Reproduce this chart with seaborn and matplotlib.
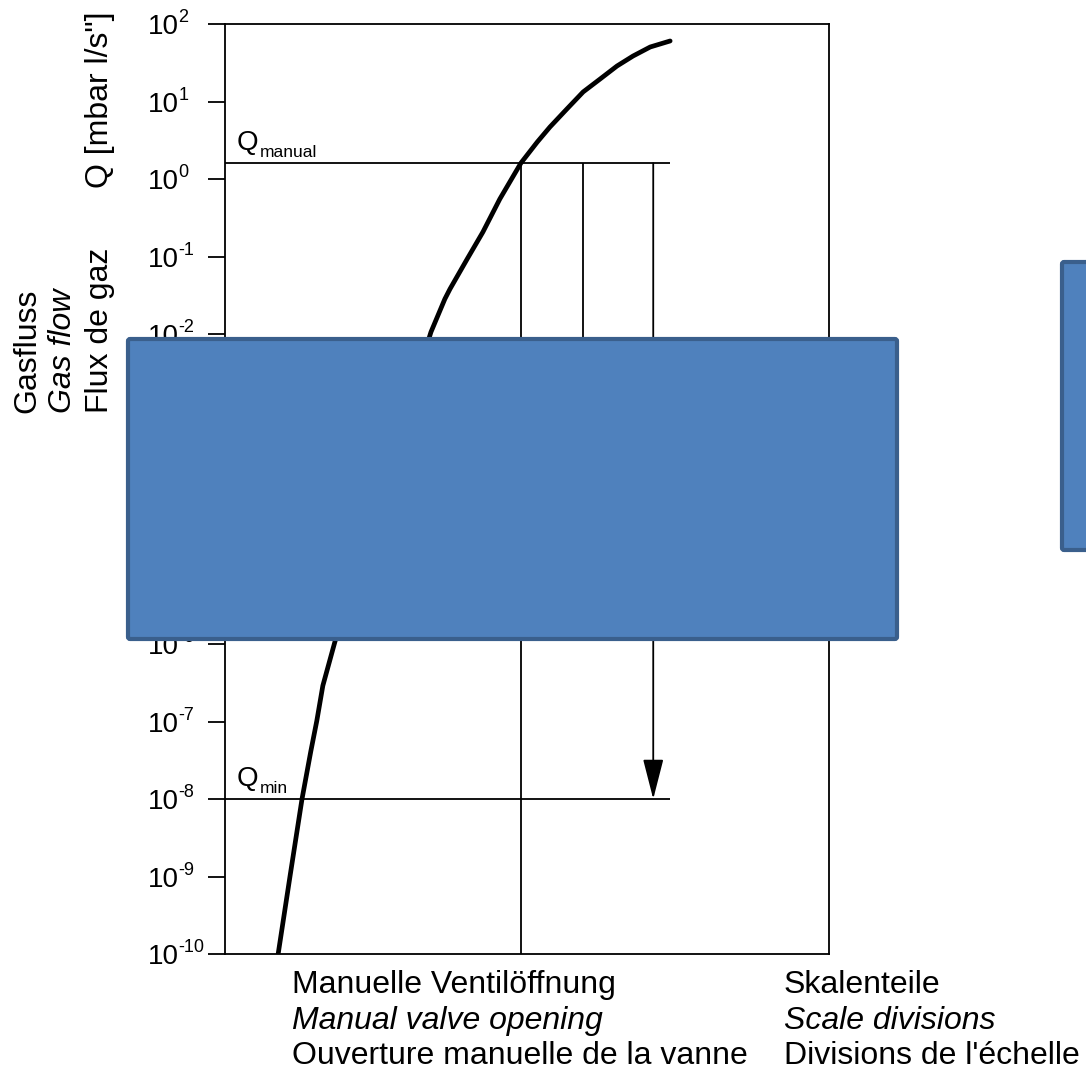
import matplotlib
matplotlib.use("Agg")
import matplotlib.pyplot as plt
from matplotlib.patches import FancyBboxPatch
from matplotlib.ticker import NullLocator, FixedFormatter
import seaborn as sns

# ── values ────────────────────────────────────────────────────────────────────
# valve opening in scale divisions (axis 0..100) and gas flow Q [mbar l/s]
opening = [8.8, 10.8, 12.75, 14.2, 15.2, 16.2, 18.2,
           34.1, 36.4, 37.25, 40.1, 42.7, 45.5, 49.0, 51.7, 53.8, 56.6,
           59.3, 62.1, 64.9, 67.55, 70.4, 73.7]
flow    = [1e-10, 1.05e-9, 1e-8, 4.1e-8, 1.02e-7, 2.9e-7, 1.07e-6,
           1.06e-2, 2.83e-2, 3.81e-2, 9.3e-2, 0.207, 0.552, 1.61, 3.0, 4.69, 8.0,
           13.3, 19.5, 28.7, 38.6, 50.5, 60.4]
q_manual = 1.6
q_min    = 1e-8
divisions  = [49.0, 59.3, 70.9]        # vertical guide lines
div_bottom = [1e-10, 1e-5, q_min]      # where each guide line ends
guide_end  = 73.7                      # right end of Q_manual / Q_min lines
decades    = list(range(-10, 3))
tick_base  = ["10"] * len(decades)
tick_exp   = [str(d) for d in decades]

W, H = 1086, 1071
def fx(px): return px / W
def fy(py): return 1 - py / H

sns.set_style("ticks")
plt.rcParams["font.family"] = ["Liberation Sans", "DejaVu Sans"]
plt.rcParams["text.color"] = "black"
plt.rcParams["ytick.color"] = "black"
plt.rcParams["axes.edgecolor"] = "black"

fig = plt.figure(figsize=(W / 100, H / 100), dpi=100)
ax = fig.add_axes([fx(225), fy(954), fx(829) - fx(225), fy(24) - fy(954)])

sns.lineplot(x=opening, y=flow, ax=ax, color="black", lw=3.4, sort=False,
             solid_capstyle="round", solid_joinstyle="round")
ax.set_yscale("log")
ax.set_xlim(0, 100); ax.set_ylim(1e-10, 1e2)

ax.hlines([q_manual, q_min], 0, guide_end, color="black", lw=1.3)
ax.vlines(divisions[:2], div_bottom[:2], q_manual, color="black", lw=1.3)
ax.annotate("", xy=(divisions[2], div_bottom[2]), xytext=(divisions[2], q_manual),
            arrowprops=dict(arrowstyle="-|>,head_length=1.25,head_width=0.32",
                            mutation_scale=20, color="black", lw=1.3,
                            shrinkA=0, shrinkB=0))

# y ticks: "10" as tick label, exponent as a small raised text
ax.set_xticks([])
ax.set_yticks([10.0 ** d for d in decades])
ax.yaxis.set_minor_locator(NullLocator())
ax.yaxis.set_major_formatter(FixedFormatter(tick_base))
ax.tick_params(axis="y", direction="out", length=12.2, width=1.3, pad=43,
               labelsize=20, labelcolor="black", color="black")
for lab in ax.get_yticklabels():
    lab.set_horizontalalignment("left")
for d, e in zip(decades, tick_exp):
    ax.annotate(e, xy=(0, 10.0 ** d), xycoords=("axes fraction", "data"),
                xytext=(-33.5, 4.5), textcoords="offset points",
                fontsize=13, ha="left", va="center")
for s in ax.spines.values():
    s.set_visible(True); s.set_color("black"); s.set_linewidth(1.3)

# Q labels on the guide lines
fig.text(fx(237), fy(150), "Q", fontsize=20, va="baseline")
fig.text(fx(260), fy(157), "manual", fontsize=12.5, va="baseline")
fig.text(fx(237), fy(786), "Q", fontsize=20, va="baseline")
fig.text(fx(260), fy(793), "min", fontsize=12.5, va="baseline")

# y axis labels (rotated)
fig.text(fx(100), fy(188), 'Q [mbar l/s"]', rotation=90, fontsize=23, ha="center", va="bottom")
fig.text(fx(27), fy(413), "Gasfluss", rotation=90, fontsize=23, ha="center", va="bottom")
fig.text(fx(63), fy(413), "Gas flow", rotation=90, fontsize=23, ha="center", va="bottom", style="italic")
fig.text(fx(100), fy(413), "Flux de gaz", rotation=90, fontsize=23, ha="center", va="bottom")

# x axis labels
fig.text(fx(292), fy(993), "Manuelle Ventilöffnung", fontsize=23, va="baseline")
fig.text(fx(292), fy(1029), "Manual valve opening", fontsize=23, va="baseline", style="italic")
fig.text(fx(292), fy(1064), "Ouverture manuelle de la vanne", fontsize=23, va="baseline")
fig.text(fx(784), fy(993), "Skalenteile", fontsize=23, va="baseline")
fig.text(fx(784), fy(1029), "Scale divisions", fontsize=23, va="baseline", style="italic")
fig.text(fx(784), fy(1064), "Divisions de l'échelle", fontsize=23, va="baseline")

# blue cover boxes
for x0, y0, x1, y1 in [(128, 339, 897, 639), (1062, 262, 1110, 550)]:
    fig.add_artist(FancyBboxPatch((fx(x0), fy(y1)), fx(x1) - fx(x0), fy(y0) - fy(y1),
                                  boxstyle="round,pad=0,rounding_size=0.002",
                                  transform=fig.transFigure, facecolor="#4F81BD",
                                  edgecolor="#3A5F8C", lw=3, zorder=10))

fig.savefig("out.png", dpi=100)
